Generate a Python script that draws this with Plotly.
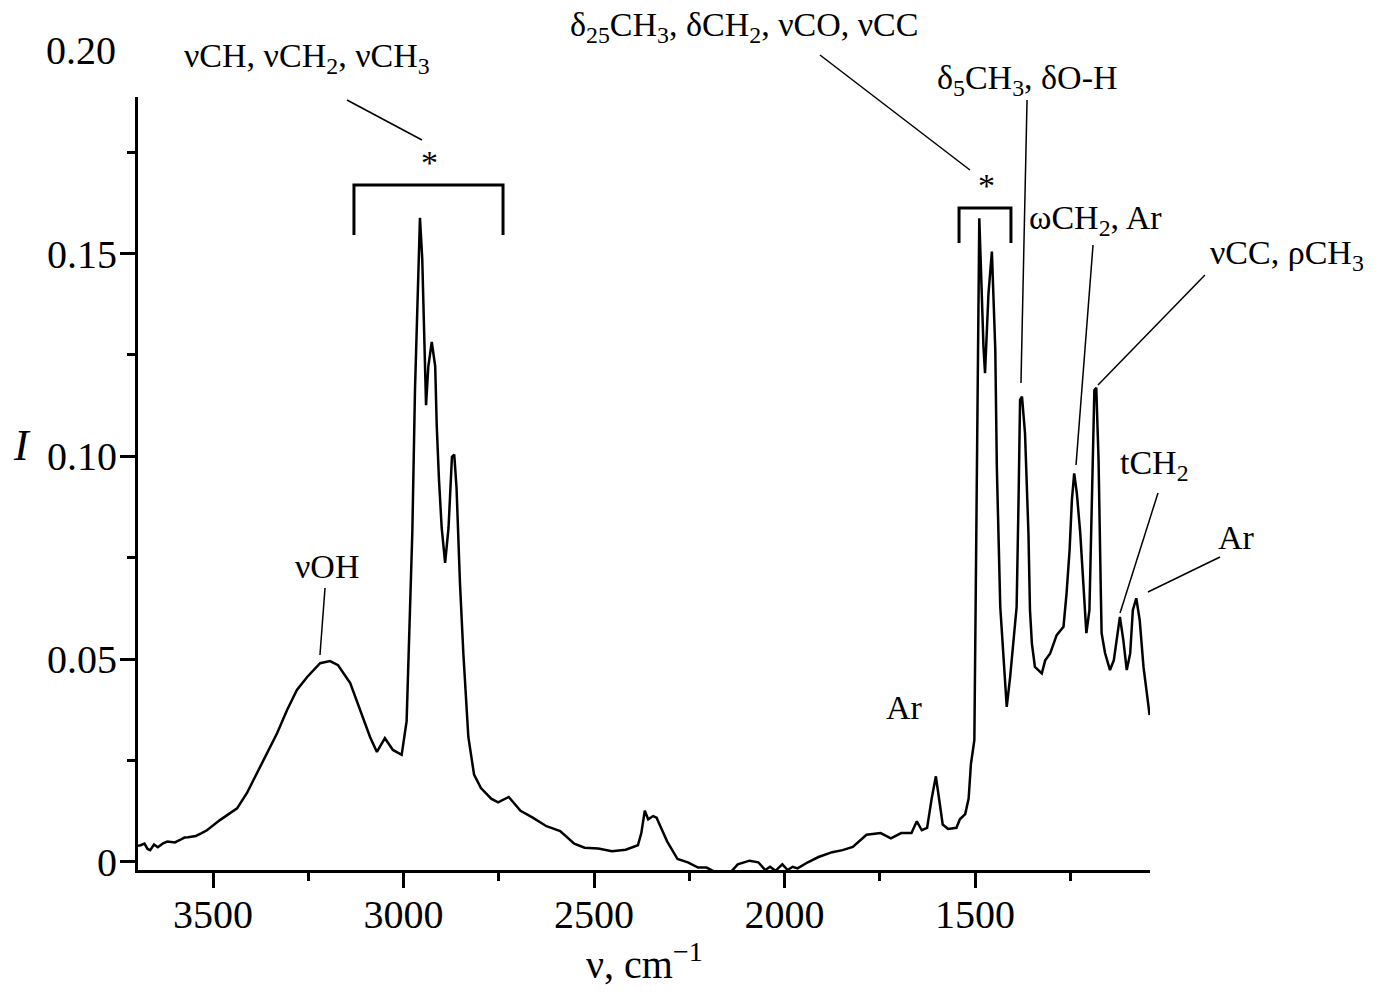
import plotly.graph_objects as go

# spectrum (wavenumber, cm-1 / intensity)
wavenumber = [3697, 3690, 3680, 3672, 3665, 3655, 3645, 3631, 3620, 3600, 3587, 3575, 3566, 3545, 3530,
              3516, 3482, 3437, 3411, 3385, 3358, 3332, 3306, 3280, 3253, 3219, 3193, 3172, 3140, 3114,
              3088, 3070, 3049, 3028, 3005,
              2992, 2986, 2977, 2970, 2961, 2957, 2951, 2945, 2941, 2935, 2926, 2917, 2913, 2907, 2900,
              2891, 2882, 2873, 2867, 2861, 2852, 2843, 2836, 2830,
              2815, 2797, 2770, 2752, 2724, 2693, 2661, 2625, 2589, 2552, 2525, 2489, 2453, 2417, 2385,
              2376, 2367, 2358, 2345, 2336, 2322, 2308, 2281, 2254, 2227, 2205, 2182, 2155, 2141, 2123,
              2092, 2069, 2051, 2038, 2024, 2006, 1992, 1979, 1966, 1939, 1911, 1875, 1848, 1821, 1785,
              1748, 1721, 1694, 1667, 1653, 1640, 1626, 1614, 1603, 1594, 1585, 1571, 1549, 1540, 1526,
              1517, 1511, 1502,
              1489, 1478, 1474, 1465, 1456, 1447, 1443, 1434, 1426, 1417, 1408, 1400, 1391, 1386, 1382,
              1377, 1369, 1360, 1356, 1351, 1343, 1325, 1316, 1303, 1286, 1268, 1260, 1252, 1246, 1240,
              1233, 1224, 1215, 1208, 1200, 1193, 1187, 1182, 1176, 1170, 1168, 1159, 1146, 1136, 1128,
              1120, 1111, 1102, 1093, 1086, 1077, 1068, 1058, 1049, 1042]
intensity = [0.0040, 0.0041, 0.0045, 0.0032, 0.0029, 0.0043, 0.0036, 0.0046, 0.0050, 0.0048, 0.0054, 0.0060, 0.0061, 0.0064, 0.0071,
             0.0078, 0.0103, 0.0132, 0.0170, 0.0219, 0.0268, 0.0317, 0.0374, 0.0424, 0.0456, 0.0490, 0.0495, 0.0485, 0.0441, 0.0374,
             0.0308, 0.0271, 0.0305, 0.0276, 0.0264,
             0.0347, 0.0562, 0.0814, 0.1165, 0.1506, 0.1588, 0.1487, 0.1222, 0.1126, 0.1222, 0.1282, 0.1222, 0.1077, 0.0941, 0.0824,
             0.0737, 0.0824, 0.0999, 0.1004, 0.0922, 0.0687, 0.0512, 0.0387, 0.0308,
             0.0215, 0.0182, 0.0156, 0.0147, 0.0160, 0.0126, 0.0109, 0.0088, 0.0076, 0.0045, 0.0035, 0.0033, 0.0026, 0.0030, 0.0041,
             0.0071, 0.0126, 0.0105, 0.0113, 0.0109, 0.0079, 0.0050, 0.0007, -0.0001, -0.0014, -0.0014, -0.0025, -0.0028, -0.0025, -0.0006,
             0.0003, -0.0001, -0.0020, -0.0012, -0.0022, -0.0006, -0.0020, -0.0012, -0.0016, -0.0001, 0.0012, 0.0024, 0.0029, 0.0037, 0.0067,
             0.0071, 0.0058, 0.0071, 0.0071, 0.0100, 0.0078, 0.0084, 0.0156, 0.0211, 0.0152, 0.0092, 0.0081, 0.0084, 0.0105, 0.0118,
             0.0156, 0.0241, 0.0300,
             0.1587, 0.1270, 0.1205, 0.1400, 0.1505, 0.1262, 0.0974, 0.0629, 0.0515, 0.0382, 0.0456, 0.0530, 0.0629, 0.0892, 0.1139,
             0.1147, 0.1057, 0.0810, 0.0621, 0.0539, 0.0481, 0.0465, 0.0497, 0.0514, 0.0559, 0.0580, 0.0662, 0.0769, 0.0892, 0.0958,
             0.0909, 0.0810, 0.0678, 0.0564, 0.0621, 0.0909, 0.1163, 0.1169, 0.0991, 0.0662, 0.0564, 0.0515, 0.0473, 0.0497, 0.0554,
             0.0604, 0.0547, 0.0473, 0.0514, 0.0621, 0.0650, 0.0596, 0.0480, 0.0416, 0.0362]

x_ticks = [3500, 3000, 2500, 2000, 1500]
y_ticks = [0, 0.05, 0.10, 0.15]
y_ticktext = ["0", "0.05", "0.10", "0.15"]

FONT = "Liberation Serif"

fig = go.Figure()
fig.add_trace(go.Scatter(x=wavenumber, y=intensity, mode="lines",
                         line=dict(color="black", width=2.5), showlegend=False))

# band labels (paper coords)
labels = [
    ("νCH, νCH<sub>2</sub>, νCH<sub>3</sub>", 0.167, 1.0505),
    ("δ<sub>25</sub>CH<sub>3</sub>, δCH<sub>2</sub>, νCO, νCC", 0.599, 1.091),
    ("δ<sub>5</sub>CH<sub>3</sub>, δO-H", 0.879, 1.022),
    ("ωCH<sub>2</sub>, Ar", 0.9466, 0.8409),
    ("νCC, ρCH<sub>3</sub>", 1.1354, 0.7956),
    ("tCH<sub>2</sub>", 1.0049, 0.5239),
    ("Ar", 1.085, 0.4295),
    ("νOH", 0.1868, 0.392),
    ("Ar", 0.7579, 0.2096),
    ("*", 0.2885, 0.915),
    ("*", 0.8389, 0.885),
]
for text, x, y in labels:
    fig.add_annotation(text=text, x=x, y=y, xref="paper", yref="paper", showarrow=False,
                       xanchor="center", yanchor="middle", font=dict(family=FONT, size=34, color="black"))

# leader lines
leaders = [
    (0.2065, 0.9961, 0.2806, 0.9444),
    (0.6739, 1.0543, 0.8221, 0.9056),
    (0.8785, 0.9961, 0.8725, 0.6300),
    (0.9437, 0.8085, 0.9269, 0.5239),
    (1.0543, 0.7697, 0.9486, 0.6274),
    (1.0079, 0.4877, 0.9704, 0.3325),
    (1.0692, 0.4049, 0.9980, 0.3596),
    (0.1848, 0.3648, 0.1798, 0.2781),
]
for x0, y0, x1, y1 in leaders:
    fig.add_shape(type="line", xref="paper", yref="paper", x0=x0, y0=y0, x1=x1, y1=y1,
                  line=dict(color="black", width=1.5))

# brackets
brackets = [(0.2134, 0.3607, 0.8862, 0.8215), (0.8113, 0.8626, 0.8564, 0.8111)]
for xl, xr, top, bottom in brackets:
    fig.add_shape(type="path", xref="paper", yref="paper",
                  path=f"M {xl} {bottom} L {xl} {top} L {xr} {top} L {xr} {bottom}",
                  line=dict(color="black", width=3))

fig.add_annotation(text="0.20", x=-0.0198, y=1.0608, xref="paper", yref="paper", showarrow=False,
                   xanchor="right", yanchor="middle", font=dict(family=FONT, size=40, color="black"))
fig.add_annotation(text="ν, cm<sup>−1</sup>", x=0.5, y=-0.119, xref="paper", yref="paper", showarrow=False,
                   xanchor="center", yanchor="middle", font=dict(family=FONT, size=40, color="black"))
fig.add_annotation(text="<i>I</i>", x=-0.1146, y=0.5498, xref="paper", yref="paper", showarrow=False,
                   xanchor="center", yanchor="middle", font=dict(family=FONT, size=44, color="black"))

fig.update_layout(
    width=1371, height=987, autosize=False,
    margin=dict(l=130, r=229, t=89, b=125),
    paper_bgcolor="white", plot_bgcolor="white",
    font=dict(family=FONT, color="black"),
    xaxis=dict(range=[3697, 1041], tickmode="array", tickvals=x_ticks,
               showline=True, linewidth=3, linecolor="black", mirror=False,
               ticks="outside", ticklen=15, tickwidth=3, tickcolor="black", ticklabelstandoff=-8,
               minor=dict(ticks="outside", ticklen=8, tickwidth=2.5, tickcolor="black", dtick=250, tick0=0),
               showgrid=False, zeroline=False, tickfont=dict(family=FONT, size=40)),
    yaxis=dict(range=[-0.002, 0.1886], tickmode="array", tickvals=y_ticks, ticktext=y_ticktext,
               showline=True, linewidth=3, linecolor="black", mirror=False,
               ticks="outside", ticklen=15, tickwidth=3, tickcolor="black", ticklabelstandoff=-5,
               minor=dict(ticks="outside", ticklen=8, tickwidth=2.5, tickcolor="black", dtick=0.025, tick0=0),
               showgrid=False, zeroline=False, tickfont=dict(family=FONT, size=40)),
)

fig.write_html("out.html")
